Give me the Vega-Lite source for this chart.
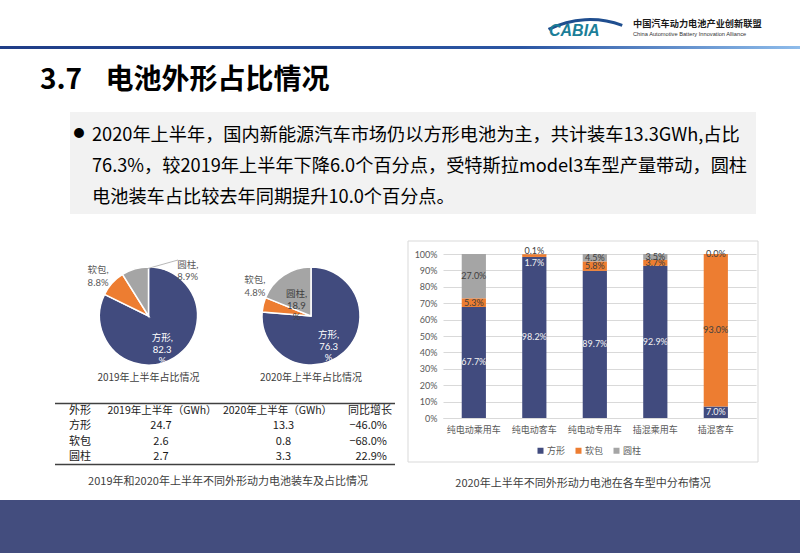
{
  "$schema": "https://vega.github.io/schema/vega-lite/v6.json",
  "padding": 0,
  "background": "white",
  "config": {
    "font": "Noto Sans CJK SC",
    "view": {"stroke": null},
    "axisY": {"labelOverlap": false}
  },
  "datasets": {
    "bars": [
      {"cat": "纯电动乘用车", "shape": "方形", "pct": 67.7},
      {"cat": "纯电动乘用车", "shape": "软包", "pct": 5.3},
      {"cat": "纯电动乘用车", "shape": "圆柱", "pct": 27.0},
      {"cat": "纯电动客车", "shape": "方形", "pct": 98.2},
      {"cat": "纯电动客车", "shape": "软包", "pct": 1.7},
      {"cat": "纯电动客车", "shape": "圆柱", "pct": 0.1},
      {"cat": "纯电动专用车", "shape": "方形", "pct": 89.7},
      {"cat": "纯电动专用车", "shape": "软包", "pct": 5.8},
      {"cat": "纯电动专用车", "shape": "圆柱", "pct": 4.5},
      {"cat": "插混乘用车", "shape": "方形", "pct": 92.9},
      {"cat": "插混乘用车", "shape": "软包", "pct": 3.7},
      {"cat": "插混乘用车", "shape": "圆柱", "pct": 3.5},
      {"cat": "插混客车", "shape": "方形", "pct": 7.0},
      {"cat": "插混客车", "shape": "软包", "pct": 93.0},
      {"cat": "插混客车", "shape": "圆柱", "pct": 0.0}
    ],
    "pies": [
      {"pie": "2019年上半年占比情况", "shape": "方形", "pct": 82.3},
      {"pie": "2019年上半年占比情况", "shape": "软包", "pct": 8.8},
      {"pie": "2019年上半年占比情况", "shape": "圆柱", "pct": 8.9},
      {"pie": "2020年上半年占比情况", "shape": "方形", "pct": 76.3},
      {"pie": "2020年上半年占比情况", "shape": "软包", "pct": 4.8},
      {"pie": "2020年上半年占比情况", "shape": "圆柱", "pct": 18.9}
    ],
    "table": [
      {"shape": "方形", "h2019": 24.7, "h2020": 13.3, "yoy": -46.0},
      {"shape": "软包", "h2019": 2.6, "h2020": 0.8, "yoy": -68.0},
      {"shape": "圆柱", "h2019": 2.7, "h2020": 3.3, "yoy": 22.9}
    ]
  },
  "spacing": 0,
  "vconcat": [
    {
      "width": 800,
      "height": 240,
      "data": {"values": [{}]},
      "layer": [
        {
          "mark": {"type": "rect", "color": {"gradient": "linear", "x1": 0, "x2": 1, "y1": 0, "y2": 0, "stops": [{"offset": 0, "color": "#1F3D87"}, {"offset": 0.65, "color": "#2B56A3"}, {"offset": 1, "color": "#8EBCEB"}]}},
          "encoding": {"x": {"value": 0}, "x2": {"value": 800}, "y": {"value": 46}, "y2": {"value": 49}}
        },
        {
          "mark": {"type": "arc", "theta": -0.47, "theta2": 0.36, "innerRadius": 90, "outerRadius": 93, "color": "#1F4E8F"},
          "encoding": {"x": {"value": 590}, "y": {"value": 111}}
        },
        {
          "mark": {"type": "text", "text": "CABIA", "fontSize": 16, "fontStyle": "italic", "fontWeight": "bold", "font": "Liberation Sans", "align": "left", "baseline": "middle", "color": "#1B7E98"},
          "encoding": {"x": {"value": 549}, "y": {"value": 31}}
        },
        {
          "mark": {"type": "text", "text": "中国汽车动力电池产业创新联盟", "fontSize": 9.2, "fontWeight": "bold", "align": "left", "baseline": "middle", "color": "#1A1A1A"},
          "encoding": {"x": {"value": 633}, "y": {"value": 23.5}}
        },
        {
          "mark": {"type": "text", "text": "China Automotive Battery Innovation Alliance", "fontSize": 5.7, "font": "Liberation Sans", "align": "left", "baseline": "middle", "color": "#333333"},
          "encoding": {"x": {"value": 633}, "y": {"value": 33.7}}
        },
        {
          "mark": {"type": "text", "text": "3.7\u2002\u2004电池外形占比情况", "fontSize": 28, "fontWeight": "bold", "align": "left", "baseline": "middle", "color": "#000000"},
          "encoding": {"x": {"value": 40}, "y": {"value": 81}}
        },
        {
          "mark": {"type": "rect", "color": "#F2F2F2"},
          "encoding": {"x": {"value": 70}, "x2": {"value": 756}, "y": {"value": 112}, "y2": {"value": 214}}
        },
        {
          "mark": {"type": "text", "text": "●", "fontSize": 11, "align": "center", "baseline": "middle", "color": "#000000"},
          "encoding": {"x": {"value": 79}, "y": {"value": 134}}
        },
        {
          "mark": {"type": "text", "text": ["2020年上半年，国内新能源汽车市场仍以方形电池为主，共计装车13.3GWh,占比", "76.3%，较2019年上半年下降6.0个百分点，受特斯拉model3车型产量带动，圆柱", "电池装车占比较去年同期提升10.0个百分点。"], "lineHeight": 31, "fontSize": 18.2, "align": "left", "baseline": "top", "color": "#000000"},
          "encoding": {"x": {"value": 92}, "y": {"value": 127}}
        }
      ]
    },
    {
      "spacing": 11,
      "vconcat": [
        {
          "spacing": 7,
          "resolve": {"scale": {"color": "independent"}},
          "hconcat": [
            {
              "spacing": 19,
              "vconcat": [
                {
                  "width": 400,
                  "height": 124,
                  "data": {"name": "pies"},
                  "transform": [
                    {"calculate": "indexof(['方形','软包','圆柱'], datum.shape)", "as": "ord"},
                    {"stack": "pct", "groupby": ["pie"], "sort": [{"field": "ord", "order": "ascending"}], "as": ["t0", "t1"]},
                    {"calculate": "(datum.t0 + datum.t1) / 2", "as": "tmid"}
                  ],
                  "encoding": {
                    "x": {"field": "pie", "type": "nominal", "scale": {"type": "point", "range": [148.5, 311], "padding": 0}, "axis": null}
                  },
                  "layer": [
                    {
                      "mark": {"type": "arc", "outerRadius": 49, "stroke": "white", "strokeWidth": 1.5},
                      "encoding": {
                        "theta": {"field": "t0", "type": "quantitative", "scale": {"domain": [0, 100]}, "stack": null},
                        "theta2": {"field": "t1"},
                        "color": {"field": "shape", "type": "nominal", "scale": {"domain": ["方形", "软包", "圆柱"], "range": ["#414B7E", "#ED7D31", "#A5A5A5"]}, "legend": null}
                      }
                    },
                    {
                      "transform": [{"filter": "datum.shape == '方形'"}],
                      "mark": {"type": "text", "fontSize": 10, "color": "#404040", "baseline": "middle"},
                      "encoding": {"y": {"value": 124}, "text": {"field": "pie"}}
                    },
                    {
                      "transform": [{"filter": "datum.shape == '方形'"}, {"calculate": "datum.shape + ',\\n' + format(datum.pct, '.1f') + '\\n%'", "as": "lab"}],
                      "mark": {"type": "text", "radius": 26, "fontSize": 9.5, "lineBreak": "\n", "lineHeight": 11.5, "color": "white", "font": "Lato, Noto Sans CJK SC", "baseline": "middle"},
                      "encoding": {"theta": {"field": "tmid", "type": "quantitative", "scale": {"domain": [0, 100]}, "stack": null}, "text": {"field": "lab"}}
                    },
                    {
                      "transform": [{"filter": "datum.shape == '圆柱' && datum.pct > 10"}, {"calculate": "datum.shape + ',\\n' + format(datum.pct, '.1f') + '\\n%'", "as": "lab"}],
                      "mark": {"type": "text", "radius": 26, "fontSize": 9.5, "lineBreak": "\n", "lineHeight": 11.5, "color": "#404040", "font": "Lato, Noto Sans CJK SC", "baseline": "middle"},
                      "encoding": {"theta": {"field": "tmid", "type": "quantitative", "scale": {"domain": [0, 100]}, "stack": null}, "text": {"field": "lab"}}
                    },
                    {
                      "transform": [{"filter": "datum.shape == '软包' && datum.pct > 6"}, {"calculate": "datum.shape + ',\\n' + format(datum.pct, '.1f') + '%'", "as": "lab"}],
                      "mark": {"type": "text", "radius": 68, "fontSize": 9.5, "lineBreak": "\n", "lineHeight": 12.5, "color": "#595959", "font": "Lato, Noto Sans CJK SC", "baseline": "middle"},
                      "encoding": {"theta": {"field": "tmid", "type": "quantitative", "scale": {"domain": [0, 100]}, "stack": null}, "text": {"field": "lab"}}
                    },
                    {
                      "transform": [{"filter": "datum.shape == '圆柱' && datum.pct < 10"}, {"calculate": "datum.shape + ',\\n' + format(datum.pct, '.1f') + '%'", "as": "lab"}],
                      "mark": {"type": "text", "radius": 68, "dx": 58, "dy": 14, "fontSize": 9.5, "lineBreak": "\n", "lineHeight": 12.5, "color": "#595959", "font": "Lato, Noto Sans CJK SC", "baseline": "middle"},
                      "encoding": {"theta": {"field": "tmid", "type": "quantitative", "scale": {"domain": [0, 100]}, "stack": null}, "text": {"field": "lab"}}
                    },
                    {
                      "transform": [{"filter": "datum.shape == '软包' && datum.pct < 6"}, {"calculate": "datum.shape + ',\\n' + format(datum.pct, '.1f') + '%'", "as": "lab"}],
                      "mark": {"type": "text", "radius": 68, "dx": 10, "dy": -20, "fontSize": 9.5, "lineBreak": "\n", "lineHeight": 12.5, "color": "#595959", "font": "Lato, Noto Sans CJK SC", "baseline": "middle"},
                      "encoding": {"theta": {"field": "tmid", "type": "quantitative", "scale": {"domain": [0, 100]}, "stack": null}, "text": {"field": "lab"}}
                    },
                    {
                      "data": {"values": [{}]},
                      "mark": {"type": "rule", "color": "#A6A6A6", "strokeWidth": 0.8},
                      "encoding": {"x": {"value": 146}, "x2": {"value": 178}, "y": {"value": 15}, "y2": {"value": 6}}
                    }
                  ]
                },
                {
                  "width": 395,
                  "height": 62,
                  "data": {"name": "table"},
                  "title": {"text": "2019年和2020年上半年不同外形动力电池装车及占比情况", "orient": "bottom", "anchor": "middle", "frame": "group", "offset": 11, "dx": 30.5, "fontSize": 11, "fontWeight": "normal", "color": "#404040"},
                  "layer": [
                    {"data": {"values": [{}]}, "mark": {"type": "rule", "color": "#404040", "strokeWidth": 1.5}, "encoding": {"x": {"value": 55}, "x2": {"value": 395}, "y": {"value": 0.5}}},
                    {"data": {"values": [{}]}, "mark": {"type": "rule", "color": "#404040", "strokeWidth": 1.5}, "encoding": {"x": {"value": 55}, "x2": {"value": 395}, "y": {"value": 61.5}}},
                    {"data": {"values": [{}]}, "mark": {"type": "text", "text": "外形", "fontSize": 11, "color": "#1A1A1A"}, "encoding": {"x": {"value": 80}, "y": {"datum": "外形", "type": "nominal", "scale": {"type": "point", "domain": ["外形", "方形", "软包", "圆柱"], "padding": 0.55}, "axis": null}}},
                    {"data": {"values": [{}]}, "mark": {"type": "text", "text": "2019年上半年（GWh）", "fontSize": 10.5, "color": "#1A1A1A"}, "encoding": {"x": {"value": 162}, "y": {"datum": "外形", "type": "nominal"}}},
                    {"data": {"values": [{}]}, "mark": {"type": "text", "text": "2020年上半年（GWh）", "fontSize": 10.5, "color": "#1A1A1A"}, "encoding": {"x": {"value": 277.5}, "y": {"datum": "外形", "type": "nominal"}}},
                    {"data": {"values": [{}]}, "mark": {"type": "text", "text": "同比增长", "fontSize": 11, "color": "#1A1A1A"}, "encoding": {"x": {"value": 370}, "y": {"datum": "外形", "type": "nominal"}}},
                    {"mark": {"type": "text", "fontSize": 11, "color": "#1A1A1A"}, "encoding": {"x": {"value": 80}, "y": {"field": "shape", "type": "nominal"}, "text": {"field": "shape"}}},
                    {"transform": [{"calculate": "format(datum.h2019, '.1f')", "as": "t"}], "mark": {"type": "text", "fontSize": 11, "color": "#1A1A1A"}, "encoding": {"x": {"value": 161}, "y": {"field": "shape", "type": "nominal"}, "text": {"field": "t"}}},
                    {"transform": [{"calculate": "format(datum.h2020, '.1f')", "as": "t"}], "mark": {"type": "text", "fontSize": 11, "color": "#1A1A1A"}, "encoding": {"x": {"value": 283.5}, "y": {"field": "shape", "type": "nominal"}, "text": {"field": "t"}}},
                    {"transform": [{"calculate": "format(datum.yoy, '.1f') + '%'", "as": "t"}], "mark": {"type": "text", "fontSize": 11, "color": "#1A1A1A", "align": "right"}, "encoding": {"x": {"value": 387}, "y": {"field": "shape", "type": "nominal"}, "text": {"field": "t"}}}
                  ]
                }
              ]
            },
            {
              "width": 313,
              "height": 164,
              "data": {"name": "bars"},
              "title": {"text": "2020年上半年不同外形动力电池在各车型中分布情况", "orient": "bottom", "anchor": "middle", "frame": "bounds", "offset": 15, "fontSize": 11, "fontWeight": "normal", "color": "#404040"},
              "transform": [
                {"calculate": "indexof(['方形','软包','圆柱'], datum.shape)", "as": "ord"},
                {"stack": "pct", "groupby": ["cat"], "sort": [{"field": "ord", "order": "ascending"}], "offset": "normalize", "as": ["y0", "y1"]},
                {"calculate": "(datum.y0 + datum.y1) / 2", "as": "ymid"}
              ],
              "encoding": {
                "x": {"field": "cat", "type": "nominal", "sort": ["纯电动乘用车", "纯电动客车", "纯电动专用车", "插混乘用车", "插混客车"], "scale": {"paddingInner": 0.6, "paddingOuter": 0.387, "align": 0.4}, "axis": {"title": null, "labelAngle": 0, "domainColor": "#D9D9D9", "ticks": false, "labelPadding": 7, "labelFontSize": 9, "labelColor": "#595959", "labelFont": "Noto Sans CJK SC"}}
              },
              "layer": [
                {
                  "data": {"values": [{}]},
                  "mark": {"type": "rect", "filled": false, "stroke": "#D9D9D9", "strokeWidth": 1},
                  "encoding": {"x": {"value": -35}, "x2": {"value": 315}, "y": {"value": -13}, "y2": {"value": 208}}
                },
                {
                  "mark": {"type": "bar"},
                  "encoding": {
                    "y": {"field": "y0", "type": "quantitative", "scale": {"domain": [0, 1]}, "axis": {"title": null, "format": ".0%", "values": [0, 0.1, 0.2, 0.3, 0.4, 0.5, 0.6, 0.7, 0.8, 0.9, 1], "labelOverlap": false, "grid": true, "gridColor": "#D9D9D9", "gridWidth": 1, "domain": false, "ticks": false, "labelPadding": 6, "labelFontSize": 9, "labelColor": "#595959", "labelFont": "Lato"}},
                    "y2": {"field": "y1"},
                    "color": {"field": "shape", "type": "nominal", "scale": {"domain": ["方形", "软包", "圆柱"], "range": ["#414B7E", "#ED7D31", "#A5A5A5"]}, "legend": {"title": null, "orient": "none", "legendX": 93, "legendY": 192, "direction": "horizontal", "symbolType": "square", "symbolSize": 36, "labelFontSize": 9, "labelColor": "#595959", "labelFont": "Noto Sans CJK SC", "columnPadding": 8, "labelOffset": 2}}
                  }
                },
                {
                  "transform": [{"filter": "!(datum.cat == '纯电动客车' && datum.shape != '方形')"}, {"calculate": "format(datum.pct, '.1f') + '%'", "as": "lab"}],
                  "mark": {"type": "text", "fontSize": 9, "font": "Lato", "baseline": "middle"},
                  "encoding": {
                    "y": {"field": "ymid", "type": "quantitative", "axis": {"title": null, "format": ".0%", "values": [0, 0.1, 0.2, 0.3, 0.4, 0.5, 0.6, 0.7, 0.8, 0.9, 1], "labelOverlap": false, "grid": true, "gridColor": "#D9D9D9", "gridWidth": 1, "domain": false, "ticks": false, "labelPadding": 6, "labelFontSize": 9, "labelColor": "#595959", "labelFont": "Lato"}},
                    "text": {"field": "lab"},
                    "color": {"condition": {"test": "datum.shape == '方形'", "value": "#F2F2F2"}, "value": "#404040"}
                  }
                },
                {
                  "transform": [{"filter": "datum.cat == '纯电动客车' && datum.shape == '软包'"}, {"calculate": "format(datum.pct, '.1f') + '%'", "as": "lab"}],
                  "mark": {"type": "text", "fontSize": 9, "font": "Lato", "baseline": "middle", "dy": 7, "color": "#F2F2F2"},
                  "encoding": {"y": {"field": "ymid", "type": "quantitative", "axis": {"title": null, "format": ".0%", "values": [0, 0.1, 0.2, 0.3, 0.4, 0.5, 0.6, 0.7, 0.8, 0.9, 1], "labelOverlap": false, "grid": true, "gridColor": "#D9D9D9", "gridWidth": 1, "domain": false, "ticks": false, "labelPadding": 6, "labelFontSize": 9, "labelColor": "#595959", "labelFont": "Lato"}}, "text": {"field": "lab"}}
                },
                {
                  "transform": [{"filter": "datum.cat == '纯电动客车' && datum.shape == '圆柱'"}, {"calculate": "format(datum.pct, '.1f') + '%'", "as": "lab"}],
                  "mark": {"type": "text", "fontSize": 9, "font": "Lato", "baseline": "middle", "dy": -3.5, "color": "#404040"},
                  "encoding": {"y": {"field": "ymid", "type": "quantitative", "axis": {"title": null, "format": ".0%", "values": [0, 0.1, 0.2, 0.3, 0.4, 0.5, 0.6, 0.7, 0.8, 0.9, 1], "labelOverlap": false, "grid": true, "gridColor": "#D9D9D9", "gridWidth": 1, "domain": false, "ticks": false, "labelPadding": 6, "labelFontSize": 9, "labelColor": "#595959", "labelFont": "Lato"}}, "text": {"field": "lab"}}
                }
              ]
            }
          ]
        },
        {
          "width": 800,
          "height": 54,
          "data": {"values": [{}]},
          "mark": {"type": "rect", "color": "#434D7E"},
          "encoding": {"x": {"value": 0}, "x2": {"value": 800}, "y": {"value": 0}, "y2": {"value": 54}}
        }
      ]
    }
  ]
}
